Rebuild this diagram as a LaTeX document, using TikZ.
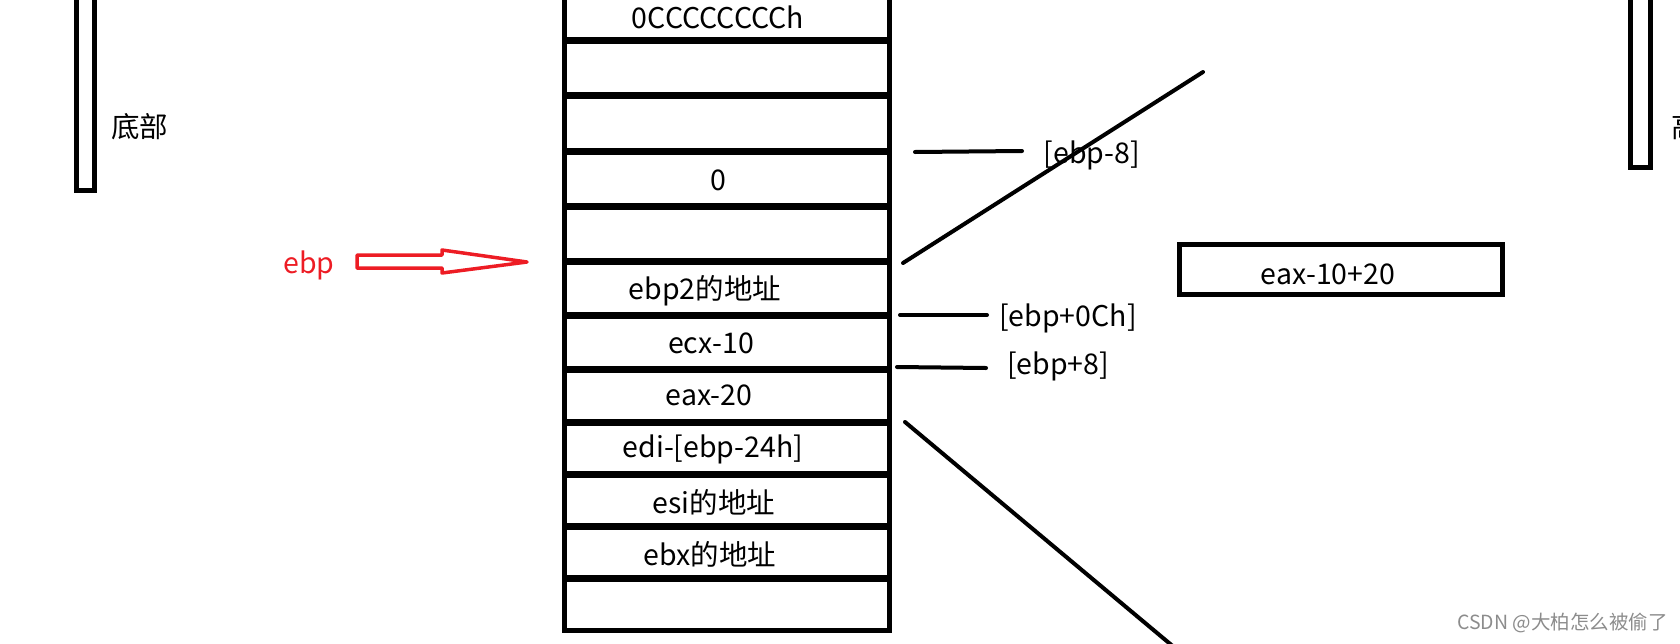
\documentclass[tikz,border=0pt]{standalone}
\usepackage{fontspec}
\setmainfont{Noto Sans CJK SC}
\definecolor{paintred}{RGB}{237,28,36}
\begin{document}
\begin{tikzpicture}[x=1pt,y=-1pt,
  lbl/.style={inner sep=0pt,font=\fontsize{28.5}{32}\selectfont},
  sepline/.style={line width=7pt},
  frame/.style={line width=5pt},
  thinln/.style={line width=4pt,line cap=round}]
\useasboundingbox (0,0) rectangle (1680,643);
\clip (0,0) rectangle (1680,643);
% left bar
\draw[frame] (76.5,-10) -- (76.5,190.5) -- (94.5,190.5) -- (94.5,-10);
\node[lbl,anchor=west] (bottom) at (111,127) {底部};
% right bar
\draw[frame] (1630.5,-10) -- (1630.5,167.5) -- (1650.5,167.5) -- (1650.5,-10);
\node[lbl,anchor=west] (high) at (1671,127) {高};
% stack
\draw[frame] (564,-10) -- (564,630) -- (889,630) -- (889,-10);
\foreach \yy in {40,95,151,206,261,315,369,422,474,526,578}
  \draw[sepline] (564,\yy) -- (889,\yy);
\node[lbl] (c1) at (718,17) {0CCCCCCCCh};
\node[lbl] (c4) at (718,180) {0};
\node[lbl] (c6) at (705,291) {ebp2的地址};
\node[lbl] (c7) at (711,343) {ecx-10};
\node[lbl] (c8) at (709,395) {eax-20};
\node[lbl] (c9) at (713,449) {edi-[ebp-24h]};
\node[lbl] (c10) at (714,502) {esi的地址};
\node[lbl] (c11) at (710,554) {ebx的地址};
% ebp pointer
\node[lbl,text=paintred] (ebp) at (309,265) {ebp};
\coordinate (arrtip) at (527,262);
\draw[paintred,line width=3.5pt,line join=round]
  (357,255) -- (442,255) -- (442,250) -- (arrtip) -- (442,273) -- (442,268) -- (357,268) -- cycle;
% labels at right
\coordinate (m1a) at (915,152); \coordinate (m1b) at (1022,151);
\draw[thinln] (m1a) -- (m1b);
\node[lbl] (l1) at (1092,155) {[ebp-8]};
\coordinate (m2a) at (900,315); \coordinate (m2b) at (987,315);
\draw[thinln] (m2a) -- (m2b);
\node[lbl] (l2) at (1068,318) {[ebp+0Ch]};
\coordinate (m3a) at (897,367); \coordinate (m3b) at (986,368);
\draw[thinln] (m3a) -- (m3b);
\node[lbl] (l3) at (1058,366) {[ebp+8]};
% diagonals
\coordinate (d1a) at (903,263); \coordinate (d1b) at (1203,72);
\draw[thinln] (d1a) -- (d1b);
\coordinate (d2a) at (905,422); \coordinate (d2b) at (1175,648);
\draw[thinln] (d2a) -- (d2b);
% result box
\draw[frame] (1179.5,244.5) rectangle (1502.5,294.5);
\node[lbl] (res) at (1328,274) {eax-10+20};
% watermark
\node[inner sep=0pt,text=black!45,font=\fontsize{19.5}{22}\selectfont,anchor=west] (wm) at (1457,623) {CSDN @大柏怎么被偷了};
\end{tikzpicture}
\end{document}
